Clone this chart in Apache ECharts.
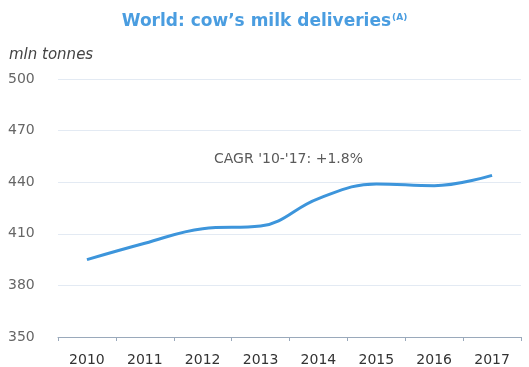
<!DOCTYPE html>
<html lang="en">
<head>
    <meta charset="UTF-8">
    <title>World: cow's milk deliveries</title>
    <script src="https://cdn.jsdelivr.net/npm/echarts@6/dist/echarts.min.js"></script>
    <style>
        html, body { margin: 0; padding: 0; background: #ffffff; }
        #chart { width: 529px; height: 367px; }
    </style>
</head>
<body>
    <div id="chart"></div>
    <script>
        var years = ['2010', '2011', '2012', '2013', '2014', '2015', '2016', '2017'];
        var deliveries = [395, 404.5, 413, 414.5, 430.5, 439, 438, 444];
        var yTicks = [350, 380, 410, 440, 470, 500];

        var chart = echarts.init(document.getElementById('chart'));
        chart.setOption({
            animation: false,
            title: {
                text: "World: cow’s milk deliveries{sup|(A)}",
                left: 'center',
                top: 8,
                textStyle: {
                    fontFamily: 'DejaVu Sans',
                    fontWeight: 'bold',
                    fontSize: 17,
                    color: '#4a9de0',
                    rich: {
                        sup: { fontSize: 9, fontWeight: 'bold', color: '#4a9de0', verticalAlign: 'top', padding: [0, 0, 9, 1] }
                    }
                }
            },
            graphic: [{
                type: 'text',
                left: 9,
                top: 48,
                style: { text: 'mln tonnes', fontFamily: 'DejaVu Sans', fontStyle: 'italic', fontSize: 15, fill: '#444' }
            }, {
                type: 'text',
                left: 214,
                top: 152,
                style: { text: "CAGR '10-'17: +1.8%", fontFamily: 'DejaVu Sans', fontSize: 14, fill: '#5a5a5a' }
            }],
            grid: { left: 58, right: 8, top: 79, bottom: 30 },
            xAxis: {
                type: 'category',
                data: years,
                boundaryGap: true,
                axisLine: { lineStyle: { color: '#9aa9bb', width: 1 } },
                axisTick: { show: true, length: 4, lineStyle: { color: '#9aa9bb' } },
                axisLabel: { color: '#333', fontFamily: 'DejaVu Sans', fontSize: 14, margin: 16 }
            },
            yAxis: {
                type: 'value',
                min: yTicks[0],
                max: yTicks[yTicks.length - 1],
                interval: 30,
                axisLine: { show: false },
                axisTick: { show: false },
                axisLabel: { color: '#666', fontFamily: 'DejaVu Sans', fontSize: 14, align: 'left', margin: 50 },
                splitLine: { lineStyle: { color: '#e3eaf3', width: 1 } }
            },
            series: [{
                type: 'line',
                data: deliveries,
                smooth: 0.4,
                symbol: 'none',
                lineStyle: { color: '#3d95db', width: 3 }
            }]
        });
    </script>
</body>
</html>
